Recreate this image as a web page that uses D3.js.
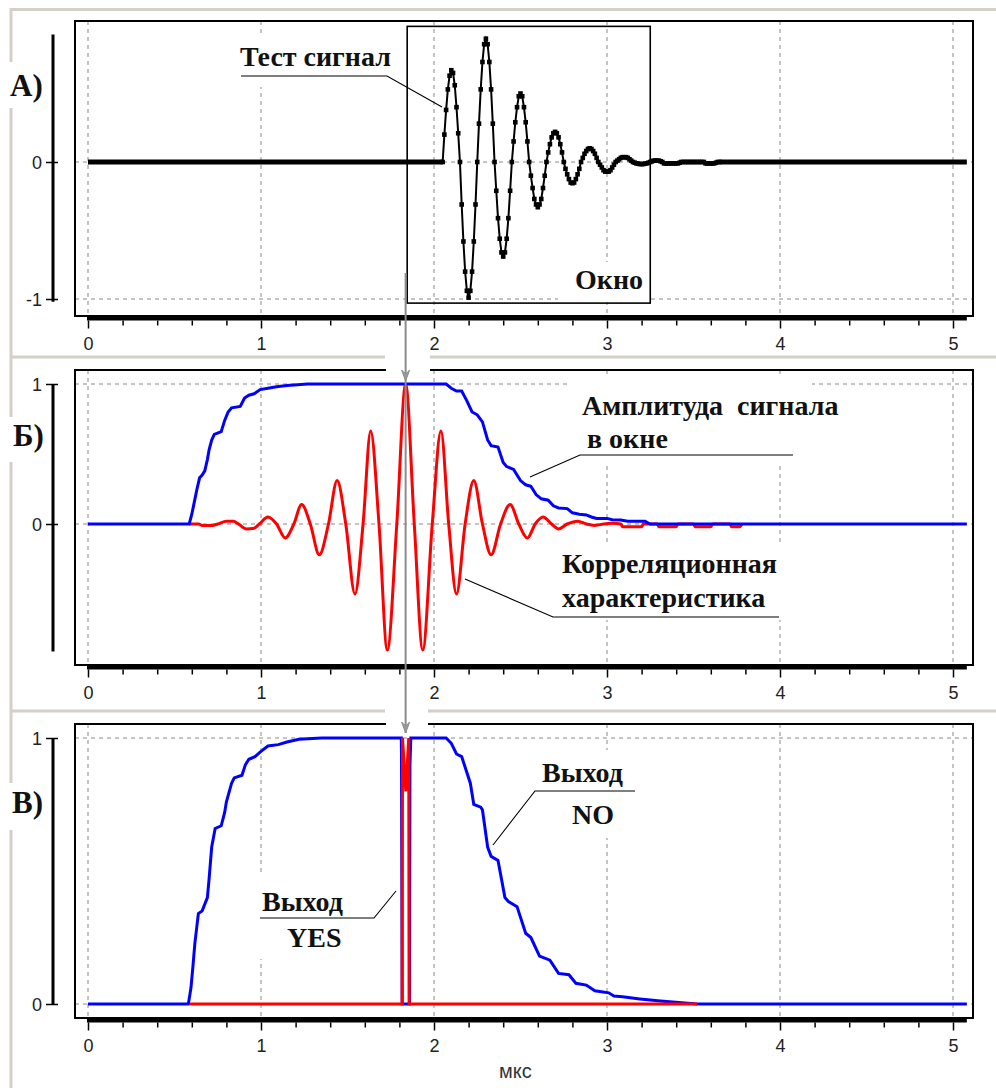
<!DOCTYPE html>
<html>
<head>
<meta charset="utf-8">
<title>Корреляционный обнаружитель</title>
<script src="https://cdn.jsdelivr.net/npm/d3@7"></script>
<style>
  html, body { margin: 0; padding: 0; background: #fff; }
  svg { display: block; }
  .lbl { font-family: "Liberation Serif", "Times New Roman", serif; font-weight: bold; font-size: 28px; fill: #111; white-space: pre; }
  .tick-lbl { font-family: "Liberation Sans", Arial, sans-serif; font-size: 18px; fill: #222; }
</style>
</head>
<body>
<svg id="chart" width="996" height="1088"></svg>
<script>
// ---------- time axis, µs ----------
const xTickValues = [0, 1, 2, 3, 4, 5];
const xTickLabels = ["0", "1", "2", "3", "4", "5"];
const xMinorTicks = [0.2, 0.4, 0.6, 0.8, 1.2, 1.4, 1.6, 1.8, 2.2, 2.4, 2.6, 2.8,
                     3.2, 3.4, 3.6, 3.8, 4.2, 4.4, 4.6, 4.8];
const xEnd = 5.08;
const xUnit = "мкс";

// ---------- value ticks of each panel ----------
const yTicksA = [0, -1];
const yTickLabelsA = ["0", "-1"];
const yTicksB = [1, 0];
const yTickLabelsB = ["1", "0"];
const yTicksC = [1, 0];
const yTickLabelsC = ["1", "0"];

// ---------- А) test signal, sampled every 0.01 µs from 2.05 µs ----------
const testStart = 2.05;
const testStep = 0.01;
const testSamples = [
  0, 0.20, 0.38, 0.53, 0.63, 0.67, 0.65, 0.56, 0.40, 0.21,
  0, -0.31, -0.58, -0.80, -0.94, -0.99, -0.94, -0.80, -0.58, -0.31,
  0, 0.28, 0.53, 0.73, 0.86, 0.90, 0.86, 0.73, 0.53, 0.28,
  0, -0.21, -0.41, -0.56, -0.66, -0.69, -0.66, -0.56, -0.41, -0.21,
  0, 0.15, 0.29, 0.40, 0.48, 0.50, 0.48, 0.40, 0.29, 0.15,
  0, -0.10, -0.19, -0.27, -0.31, -0.33, -0.31, -0.27, -0.19, -0.10,
  0, 0.07, 0.13, 0.18, 0.21, 0.22, 0.21, 0.18, 0.13, 0.07,
  0, -0.05, -0.09, -0.125, -0.15, -0.155, -0.15, -0.125, -0.09, -0.05,
  0, 0.03, 0.06, 0.08, 0.095, 0.10, 0.095, 0.08, 0.06, 0.03,
  0, -0.02, -0.04, -0.06, -0.07, -0.07, -0.07, -0.06, -0.04, -0.02,
  0, 0.01, 0.02, 0.03, 0.035, 0.035, 0.035, 0.03, 0.02, 0.01,
  0, -0.005, -0.01, -0.012, -0.015, -0.015, -0.015, -0.012, -0.01, -0.005,
  0, 0.005, 0.01, 0.01, 0.01, 0.01, 0.005, 0, -0.01, -0.01,
  -0.01, -0.01, -0.01, -0.01, -0.01, -0.01, -0.01, -0.005, 0, 0,
  0, 0, 0, 0, 0, 0, 0, 0, 0, 0,
  0, 0, -0.01, -0.01, -0.01, -0.01, -0.01, -0.01, -0.005, 0,
  0
];
// spans (µs) where the test signal rests at zero
const testQuiet = [[0, 2.05], [3.65, 5.08]];
// analysis window: time span and value span
const windowSpan = [1.845, 3.25];
const windowLevels = [0.99, -1.03];
// correlation maximum, marked by the arrow through all panels
const markerTime = 1.836;

// ---------- Б) signal amplitude in the window: [µs, value] ----------
const amplitude = [
  [0, 0], [0.585, 0], [0.60, 0.07], [0.615, 0.16], [0.63, 0.25], [0.645, 0.33],
  [0.66, 0.35], [0.675, 0.38], [0.69, 0.46], [0.70, 0.53], [0.715, 0.60], [0.73, 0.64],
  [0.77, 0.66], [0.79, 0.74], [0.81, 0.80], [0.83, 0.83], [0.88, 0.84], [0.905, 0.90],
  [0.93, 0.92], [0.96, 0.93], [0.995, 0.96], [1.04, 0.97], [1.09, 0.98], [1.15, 0.99],
  [1.27, 1.0], [2.07, 1.0], [2.10, 0.97], [2.13, 0.95], [2.16, 0.95], [2.19, 0.88],
  [2.22, 0.80], [2.25, 0.78], [2.28, 0.73], [2.31, 0.60], [2.33, 0.56], [2.37, 0.55],
  [2.40, 0.44], [2.42, 0.41], [2.46, 0.39], [2.50, 0.31], [2.53, 0.28], [2.56, 0.27],
  [2.59, 0.21], [2.62, 0.18], [2.66, 0.17], [2.69, 0.13], [2.72, 0.115], [2.77, 0.11],
  [2.80, 0.08], [2.84, 0.07], [2.88, 0.065], [2.91, 0.05], [2.94, 0.04], [3.00, 0.04],
  [3.03, 0.03], [3.08, 0.028], [3.12, 0.02], [3.22, 0.02], [3.24, 0.005], [3.25, 0],
  [5.08, 0]
];

// ---------- Б) correlation response: [µs, value] ----------
const correlation = [
  [0.585, 0], [0.64, 0], [0.66, -0.01], [0.72, -0.01], [0.75, 0], [0.80, 0.02],
  [0.84, 0.02], [0.87, 0], [0.915, -0.035], [0.96, -0.03], [0.99, 0], [1.04, 0.05],
  [1.09, 0], [1.14, -0.10], [1.19, 0], [1.235, 0.14], [1.285, 0], [1.337, -0.22],
  [1.39, 0], [1.44, 0.31], [1.49, 0], [1.543, -0.50], [1.59, 0], [1.634, 0.665],
  [1.682, 0], [1.73, -0.90], [1.785, 0], [1.836, 1.0], [1.886, 0], [1.935, -0.90],
  [1.99, 0], [2.04, 0.665], [2.085, 0], [2.13, -0.50], [2.18, 0], [2.23, 0.31],
  [2.28, 0], [2.33, -0.22], [2.385, 0], [2.44, 0.14], [2.49, 0], [2.54, -0.10],
  [2.585, 0], [2.63, 0.05], [2.68, 0], [2.72, -0.035], [2.77, 0], [2.83, 0.02],
  [2.88, 0], [2.93, -0.01], [2.98, 0], [3.03, 0.005], [3.08, 0], [3.09, -0.02],
  [3.20, -0.02], [3.21, 0], [3.29, 0], [3.30, -0.02], [3.40, -0.02], [3.41, 0],
  [3.50, 0], [3.51, -0.02], [3.60, -0.02], [3.61, 0], [3.71, 0], [3.72, -0.02],
  [3.77, -0.02], [3.78, 0]
];

// ---------- В) detector outputs: [µs, value] ----------
const outputNo = [
  [0, 0], [0.58, 0], [0.595, 0.06], [0.605, 0.13], [0.618, 0.23], [0.638, 0.34],
  [0.66, 0.35], [0.69, 0.40], [0.70, 0.47], [0.715, 0.59], [0.735, 0.66], [0.77, 0.67],
  [0.79, 0.72], [0.80, 0.76], [0.83, 0.83], [0.845, 0.85], [0.89, 0.86], [0.91, 0.90],
  [0.93, 0.92], [0.965, 0.93], [1.00, 0.95], [1.04, 0.97], [1.10, 0.975], [1.15, 0.985],
  [1.22, 0.995], [1.35, 1.0], [1.811, 1.0], [1.812, 0.94], [1.816, 0], [1.859, 0],
  [1.861, 0.9], [1.866, 1.0], [2.07, 1.0], [2.10, 0.98], [2.13, 0.94], [2.16, 0.93],
  [2.18, 0.89], [2.21, 0.83], [2.23, 0.75], [2.27, 0.74], [2.28, 0.73], [2.31, 0.59],
  [2.33, 0.555], [2.37, 0.54], [2.41, 0.40], [2.43, 0.385], [2.48, 0.366], [2.53, 0.266],
  [2.56, 0.25], [2.61, 0.18], [2.67, 0.165], [2.72, 0.115], [2.78, 0.11], [2.82, 0.078],
  [2.88, 0.071], [2.93, 0.05], [3.01, 0.042], [3.04, 0.03], [3.09, 0.027], [3.19, 0.019],
  [3.31, 0.011], [3.52, 0], [5.08, 0]
];
const outputYes = [
  [0.59, 0], [1.816, 0], [1.818, 1.0], [1.837, 0.8], [1.854, 1.0], [1.856, 0], [3.52, 0]
];

// =====================================================================
const svg = d3.select("#chart");
const x = d3.scaleLinear().domain([0, 5]).range([88, 953]);

const frameGray = "#d4d0c8";
const gridGray = "#8a8a8a";

const panels = {
  A: { left: 75, right: 973, top: 21, bottom: 316, axisY: 318.5,
       y: d3.scaleLinear().domain([-1, 0]).range([299, 162]),
       ticks: yTicksA, tickLabels: yTickLabelsA, grid: [0, -1], bar: [0.93, -1.02] },
  B: { left: 75, right: 973, top: 370, bottom: 665, axisY: 667.5,
       y: d3.scaleLinear().domain([0, 1]).range([524, 384]),
       ticks: yTicksB, tickLabels: yTickLabelsB, grid: [1, 0], bar: [1, -0.91] },
  C: { left: 75, right: 973, top: 724, bottom: 1018, axisY: 1020.5,
       y: d3.scaleLinear().domain([0, 1]).range([1004, 738]),
       ticks: yTicksC, tickLabels: yTickLabelsC, grid: [1, 0], bar: [1, 0] }
};

// ---------- outer window frame ----------
const frame = svg.append("g").attr("stroke", frameGray).attr("stroke-width", 3).attr("fill", "none");
frame.append("line").attr("x1", 10).attr("x2", 996).attr("y1", 9.5).attr("y2", 9.5);
[[10, 385, 357], [430, 996, 357], [10, 385, 711], [427, 996, 711]].forEach(([a, b, yy]) =>
  frame.append("line").attr("x1", a).attr("x2", b).attr("y1", yy).attr("y2", yy));
[[8, 62], [108, 417], [462, 783], [830, 1088]].forEach(([a, b]) =>
  frame.append("line").attr("x1", 11).attr("x2", 11).attr("y1", a).attr("y2", b));

// ---------- panel furniture ----------
function drawPanel(p) {
  const g = svg.append("g");
  // dashed grid
  g.selectAll(null).data(xTickValues).join("line")
    .attr("x1", d => x(d)).attr("x2", d => x(d))
    .attr("y1", p.top).attr("y2", p.bottom)
    .attr("stroke", gridGray).attr("stroke-width", 1).attr("stroke-dasharray", "4,4");
  g.selectAll(null).data(p.grid).join("line")
    .attr("x1", p.left).attr("x2", p.right)
    .attr("y1", d => p.y(d)).attr("y2", d => p.y(d))
    .attr("stroke", gridGray).attr("stroke-width", 1).attr("stroke-dasharray", "4,4");
  // plot box
  g.append("rect")
    .attr("x", p.left).attr("y", p.top)
    .attr("width", p.right - p.left).attr("height", p.bottom - p.top)
    .attr("fill", "none").attr("stroke", "#000").attr("stroke-width", 2);

  // value axis: a heavy bar with short ticks
  g.append("line")
    .attr("x1", 53).attr("x2", 53)
    .attr("y1", p.y(p.bar[0])).attr("y2", p.y(p.bar[1]))
    .attr("stroke", "#000").attr("stroke-width", 3);
  const yAxis = g.append("g").attr("transform", "translate(58,0)")
    .call(d3.axisLeft(p.y).tickValues(p.ticks)
      .tickFormat((d, i) => p.tickLabels[i]).tickSize(12).tickPadding(4));
  yAxis.select(".domain").remove();
  yAxis.selectAll(".tick line").attr("stroke", "#000").attr("stroke-width", 1.5);
  yAxis.selectAll("text").attr("class", "tick-lbl").attr("dy", "0.36em")
    .attr("font-family", null).attr("font-size", null);
  yAxis.attr("font-family", null).attr("font-size", null);

  // time axis: heavy line, major and minor ticks
  g.append("line")
    .attr("x1", x(0) - 1).attr("x2", x(xEnd))
    .attr("y1", p.axisY).attr("y2", p.axisY)
    .attr("stroke", "#000").attr("stroke-width", 4);
  const minor = g.append("g").attr("transform", `translate(0,${p.axisY + 2})`)
    .call(d3.axisBottom(x).tickValues(xMinorTicks).tickSize(5).tickFormat(""));
  minor.select(".domain").remove();
  minor.selectAll(".tick line").attr("stroke", "#000").attr("stroke-width", 1.5);
  const major = g.append("g").attr("transform", `translate(0,${p.axisY + 2})`)
    .call(d3.axisBottom(x).tickValues(xTickValues).tickSize(8)
      .tickFormat((d, i) => xTickLabels[i]));
  major.select(".domain").remove();
  major.attr("font-family", null).attr("font-size", null);
  major.selectAll(".tick line").attr("stroke", "#000").attr("stroke-width", 1.5);
  major.selectAll("text").attr("class", "tick-lbl").attr("y", 29).attr("dy", 0);
  return g;
}
Object.values(panels).forEach(drawPanel);

// white backing for the annotation texts (they hide the grid behind them)
const backs = [
  [236, 33, 158, 54], [558, 262, 92, 40],
  [568, 376, 244, 88], [556, 542, 228, 78],
  [256, 875, 122, 84], [533, 750, 106, 88]
];
svg.append("g").selectAll("rect").data(backs).join("rect")
  .attr("x", d => d[0]).attr("y", d => d[1])
  .attr("width", d => d[2]).attr("height", d => d[3]).attr("fill", "#fff");

// ---------- А) test signal ----------
const pA = panels.A;
const testPoints = testSamples.map((v, i) => [testStart + i * testStep, v]);
svg.append("g").selectAll("line").data(testQuiet).join("line")
  .attr("x1", d => x(d[0])).attr("x2", d => x(d[1]))
  .attr("y1", pA.y(0)).attr("y2", pA.y(0))
  .attr("stroke", "#000").attr("stroke-width", 5);
svg.append("path").datum(testPoints)
  .attr("fill", "none").attr("stroke", "#000").attr("stroke-width", 2)
  .attr("d", d3.line().x(d => x(d[0])).y(d => pA.y(d[1])));
svg.append("g").selectAll("rect").data(testPoints).join("rect")
  .attr("x", d => x(d[0]) - 2.3).attr("y", d => pA.y(d[1]) - 2.3)
  .attr("width", 4.6).attr("height", 4.6).attr("fill", "#000");

// analysis window
svg.append("rect")
  .attr("x", x(windowSpan[0])).attr("y", pA.y(windowLevels[0]))
  .attr("width", x(windowSpan[1]) - x(windowSpan[0]))
  .attr("height", pA.y(windowLevels[1]) - pA.y(windowLevels[0]))
  .attr("fill", "none").attr("stroke", "#000").attr("stroke-width", 1.6);

// ---------- Б) amplitude and correlation ----------
const pB = panels.B;
svg.append("path").datum(correlation)
  .attr("fill", "none").attr("stroke", "#ff0000").attr("stroke-width", 3)
  .attr("d", d3.line().curve(d3.curveMonotoneX).x(d => x(d[0])).y(d => pB.y(d[1])));
svg.append("path").datum(amplitude)
  .attr("fill", "none").attr("stroke", "#0000ff").attr("stroke-width", 3)
  .attr("d", d3.line().x(d => x(d[0])).y(d => pB.y(d[1])));

// ---------- В) outputs ----------
const pC = panels.C;
svg.append("path").datum(outputNo)
  .attr("fill", "none").attr("stroke", "#0000ff").attr("stroke-width", 3)
  .attr("d", d3.line().x(d => x(d[0])).y(d => pC.y(d[1])));
svg.append("path").datum(outputYes)
  .attr("fill", "none").attr("stroke", "#ff0000").attr("stroke-width", 3)
  .attr("d", d3.line().x(d => x(d[0])).y(d => pC.y(d[1])));

// ---------- annotations ----------
const texts = [
  ["Тест сигнал", 240, 66], ["Окно", 575, 289],
  ["Амплитуда  сигнала", 582, 415], ["в окне", 587, 448],
  ["Корреляционная", 562, 573], ["характеристика", 562, 607],
  ["Выход", 262, 911], ["YES", 287, 947],
  ["Выход", 542, 782], ["NO", 572, 824]
];
svg.append("g").selectAll("text").data(texts).join("text")
  .attr("class", "lbl").attr("x", d => d[1]).attr("y", d => d[2]).text(d => d[0]);

const leaders = [
  [[442, 107], [387, 76], [241, 76]],
  [[530, 477], [580, 455], [793, 455]],
  [[465, 579], [553, 617], [779, 617]],
  [[396, 891], [374, 918], [260, 918]],
  [[493, 845], [535, 791], [635, 791]]
];
svg.append("g").selectAll("path").data(leaders).join("path")
  .attr("fill", "none").attr("stroke", "#000").attr("stroke-width", 1.1)
  .attr("d", d3.line());

// panel letters
const letters = [["А)", 10, 96], ["Б)", 13, 446], ["В)", 12, 813]];
svg.append("g").selectAll("text").data(letters).join("text")
  .attr("class", "lbl").style("font-size", "31px")
  .attr("x", d => d[1]).attr("y", d => d[2]).text(d => d[0]);

// unit label
svg.append("text").attr("class", "tick-lbl").style("font-size", "20px").style("fill", "#333")
  .attr("x", 499).attr("y", 1078).text(xUnit);

// ---------- marker arrow at the correlation maximum ----------
svg.append("g").selectAll("rect").data([[386, 351, 44, 22], [386, 706, 42, 22]]).join("rect")
  .attr("x", d => d[0]).attr("y", d => d[1]).attr("width", d => d[2]).attr("height", d => d[3])
  .attr("fill", "#fff");
const mx = x(markerTime);
const arrowG = svg.append("g").attr("stroke", "#8c8c8c").attr("fill", "#9a9a9a");
arrowG.append("line").attr("x1", mx).attr("x2", mx)
  .attr("y1", pA.y(-0.81)).attr("y2", pC.y(1) - 5).attr("stroke-width", 2);
[pB.y(1) - 3, pC.y(1) - 5].forEach(tip => {
  arrowG.append("path")
    .attr("d", `M${mx - 4},${tip - 11} L${mx},${tip} L${mx + 4},${tip - 11} L${mx},${tip - 7} Z`)
    .attr("stroke-width", 1);
});
</script>
</body>
</html>
